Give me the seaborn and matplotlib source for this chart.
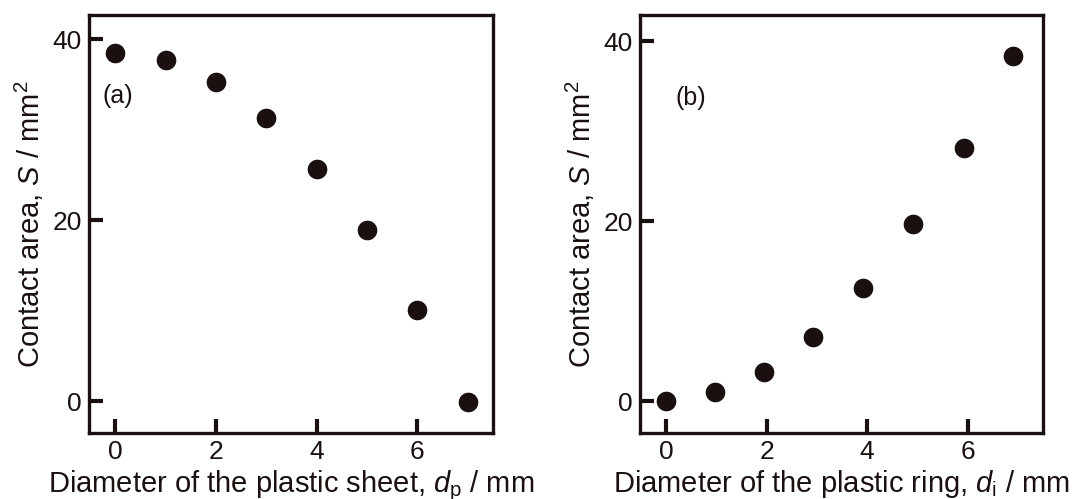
import matplotlib
matplotlib.use("Agg")
import matplotlib.pyplot as plt
import seaborn as sns
import pandas as pd

# Contact area versus diameter of the plastic sheet (a) and ring (b)
sheet_diameter = [0, 1, 2, 3, 4, 5, 6, 7]
sheet_area = [38.5, 37.7, 35.3, 31.3, 25.7, 18.9, 10.1, -0.1]

ring_diameter = [0, 0.97, 1.95, 2.93, 3.92, 4.92, 5.92, 6.91]
ring_area = [0.1, 1.0, 3.3, 7.1, 12.6, 19.7, 28.1, 38.3]

x_ticks = [0, 2, 4, 6]
y_ticks = [0, 20, 40]

sns.set_theme(style="ticks")
plt.rcParams["font.family"] = ["Liberation Sans", "DejaVu Sans"]
plt.rcParams["mathtext.fontset"] = "custom"
plt.rcParams["mathtext.rm"] = "Liberation Sans"
plt.rcParams["mathtext.it"] = "Liberation Sans:italic"

ink = "#1a1010"
fig = plt.figure(figsize=(10.83, 4.99), dpi=100)
ax_a = fig.add_axes([0.0822, 0.1323, 0.373, 0.8377])
ax_b = fig.add_axes([0.591, 0.1323, 0.372, 0.8377])

panels = [
    (ax_a, sheet_diameter, sheet_area,
     r"Diameter of the plastic sheet, $d_\mathrm{p}$ / mm", "(a)", -0.26, (-3.5, 42.7)),
    (ax_b, ring_diameter, ring_area,
     r"Diameter of the plastic ring, $d_\mathrm{i}$ / mm", "(b)", 0.18, (-3.5, 42.9)),
]

for ax, xs, ys, xlabel, tag, tag_x, ylim in panels:
    df = pd.DataFrame({"d": xs, "S": ys})
    sns.scatterplot(data=df, x="d", y="S", ax=ax, s=200, color=ink,
                    edgecolor=ink, linewidth=0, zorder=3)
    ax.set_xlim(-0.52, 7.5)
    ax.set_ylim(*ylim)
    ax.set_xticks(x_ticks)
    ax.set_yticks(y_ticks)
    ax.tick_params(direction="in", length=10, width=3, color=ink,
                   labelsize=19, labelcolor=ink, pad=5)
    for sp in ax.spines.values():
        sp.set_linewidth(2.4)
        sp.set_color(ink)
    ax.set_xlabel(xlabel, fontsize=21, color=ink, labelpad=3)
    ax.set_ylabel(r"Contact area, $S$ / mm$^2$", fontsize=21, color=ink, labelpad=5)
    ax.text(tag_x, 33.7, tag, fontsize=18, color=ink, va="center", ha="left")

fig.savefig("out.png", dpi=100)
